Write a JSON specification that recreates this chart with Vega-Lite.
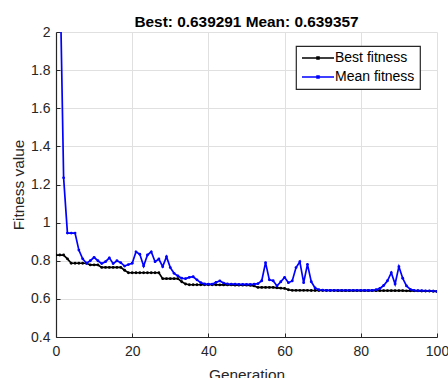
{
  "$schema": "https://vega.github.io/schema/vega-lite/v6.json",
  "autosize": {"type": "none"},
  "padding": {"left": 56, "top": 32, "right": 11, "bottom": 41},
  "width": 381,
  "height": 305,
  "background": "white",
  "title": {"text": "Best: 0.639291 Mean: 0.639357", "font": "Liberation Sans", "fontSize": 15.4, "fontWeight": "bold", "color": "#000000", "baseline": "bottom", "offset": 2, "dy": 22},
  "data": {"values": [
    {"gen": 0, "Best fitness": 0.83, "Mean fitness": 3.0},
    {"gen": 1, "Best fitness": 0.83, "Mean fitness": 2.36},
    {"gen": 2, "Best fitness": 0.83, "Mean fitness": 1.235},
    {"gen": 3, "Best fitness": 0.81, "Mean fitness": 0.945},
    {"gen": 4, "Best fitness": 0.787, "Mean fitness": 0.945},
    {"gen": 5, "Best fitness": 0.787, "Mean fitness": 0.945},
    {"gen": 6, "Best fitness": 0.787, "Mean fitness": 0.856},
    {"gen": 7, "Best fitness": 0.787, "Mean fitness": 0.81},
    {"gen": 8, "Best fitness": 0.787, "Mean fitness": 0.787},
    {"gen": 9, "Best fitness": 0.778, "Mean fitness": 0.8},
    {"gen": 10, "Best fitness": 0.778, "Mean fitness": 0.818},
    {"gen": 11, "Best fitness": 0.778, "Mean fitness": 0.8},
    {"gen": 12, "Best fitness": 0.765, "Mean fitness": 0.785},
    {"gen": 13, "Best fitness": 0.765, "Mean fitness": 0.795},
    {"gen": 14, "Best fitness": 0.765, "Mean fitness": 0.815},
    {"gen": 15, "Best fitness": 0.765, "Mean fitness": 0.785},
    {"gen": 16, "Best fitness": 0.765, "Mean fitness": 0.8},
    {"gen": 17, "Best fitness": 0.765, "Mean fitness": 0.79},
    {"gen": 18, "Best fitness": 0.75, "Mean fitness": 0.772},
    {"gen": 19, "Best fitness": 0.737, "Mean fitness": 0.78},
    {"gen": 20, "Best fitness": 0.737, "Mean fitness": 0.787},
    {"gen": 21, "Best fitness": 0.737, "Mean fitness": 0.847},
    {"gen": 22, "Best fitness": 0.737, "Mean fitness": 0.834},
    {"gen": 23, "Best fitness": 0.737, "Mean fitness": 0.772},
    {"gen": 24, "Best fitness": 0.737, "Mean fitness": 0.83},
    {"gen": 25, "Best fitness": 0.737, "Mean fitness": 0.847},
    {"gen": 26, "Best fitness": 0.737, "Mean fitness": 0.795},
    {"gen": 27, "Best fitness": 0.737, "Mean fitness": 0.809},
    {"gen": 28, "Best fitness": 0.706, "Mean fitness": 0.769},
    {"gen": 29, "Best fitness": 0.706, "Mean fitness": 0.821},
    {"gen": 30, "Best fitness": 0.706, "Mean fitness": 0.764},
    {"gen": 31, "Best fitness": 0.706, "Mean fitness": 0.734},
    {"gen": 32, "Best fitness": 0.706, "Mean fitness": 0.72},
    {"gen": 33, "Best fitness": 0.69, "Mean fitness": 0.708},
    {"gen": 34, "Best fitness": 0.678, "Mean fitness": 0.706},
    {"gen": 35, "Best fitness": 0.674, "Mean fitness": 0.713},
    {"gen": 36, "Best fitness": 0.674, "Mean fitness": 0.716},
    {"gen": 37, "Best fitness": 0.674, "Mean fitness": 0.7},
    {"gen": 38, "Best fitness": 0.674, "Mean fitness": 0.685},
    {"gen": 39, "Best fitness": 0.674, "Mean fitness": 0.678},
    {"gen": 40, "Best fitness": 0.674, "Mean fitness": 0.677},
    {"gen": 41, "Best fitness": 0.674, "Mean fitness": 0.677},
    {"gen": 42, "Best fitness": 0.674, "Mean fitness": 0.687},
    {"gen": 43, "Best fitness": 0.673, "Mean fitness": 0.694},
    {"gen": 44, "Best fitness": 0.673, "Mean fitness": 0.683},
    {"gen": 45, "Best fitness": 0.673, "Mean fitness": 0.678},
    {"gen": 46, "Best fitness": 0.673, "Mean fitness": 0.677},
    {"gen": 47, "Best fitness": 0.672, "Mean fitness": 0.677},
    {"gen": 48, "Best fitness": 0.672, "Mean fitness": 0.676},
    {"gen": 49, "Best fitness": 0.672, "Mean fitness": 0.676},
    {"gen": 50, "Best fitness": 0.672, "Mean fitness": 0.676},
    {"gen": 51, "Best fitness": 0.671, "Mean fitness": 0.676},
    {"gen": 52, "Best fitness": 0.668, "Mean fitness": 0.677},
    {"gen": 53, "Best fitness": 0.66, "Mean fitness": 0.68},
    {"gen": 54, "Best fitness": 0.66, "Mean fitness": 0.695},
    {"gen": 55, "Best fitness": 0.66, "Mean fitness": 0.79},
    {"gen": 56, "Best fitness": 0.66, "Mean fitness": 0.7},
    {"gen": 57, "Best fitness": 0.66, "Mean fitness": 0.695},
    {"gen": 58, "Best fitness": 0.658, "Mean fitness": 0.668},
    {"gen": 59, "Best fitness": 0.656, "Mean fitness": 0.69},
    {"gen": 60, "Best fitness": 0.655, "Mean fitness": 0.713},
    {"gen": 61, "Best fitness": 0.648, "Mean fitness": 0.685},
    {"gen": 62, "Best fitness": 0.645, "Mean fitness": 0.694},
    {"gen": 63, "Best fitness": 0.645, "Mean fitness": 0.764},
    {"gen": 64, "Best fitness": 0.645, "Mean fitness": 0.795},
    {"gen": 65, "Best fitness": 0.645, "Mean fitness": 0.685},
    {"gen": 66, "Best fitness": 0.645, "Mean fitness": 0.781},
    {"gen": 67, "Best fitness": 0.644, "Mean fitness": 0.69},
    {"gen": 68, "Best fitness": 0.644, "Mean fitness": 0.657},
    {"gen": 69, "Best fitness": 0.644, "Mean fitness": 0.648},
    {"gen": 70, "Best fitness": 0.644, "Mean fitness": 0.646},
    {"gen": 71, "Best fitness": 0.644, "Mean fitness": 0.645},
    {"gen": 72, "Best fitness": 0.644, "Mean fitness": 0.645},
    {"gen": 73, "Best fitness": 0.644, "Mean fitness": 0.645},
    {"gen": 74, "Best fitness": 0.643, "Mean fitness": 0.645},
    {"gen": 75, "Best fitness": 0.643, "Mean fitness": 0.645},
    {"gen": 76, "Best fitness": 0.643, "Mean fitness": 0.645},
    {"gen": 77, "Best fitness": 0.643, "Mean fitness": 0.645},
    {"gen": 78, "Best fitness": 0.643, "Mean fitness": 0.645},
    {"gen": 79, "Best fitness": 0.643, "Mean fitness": 0.645},
    {"gen": 80, "Best fitness": 0.643, "Mean fitness": 0.645},
    {"gen": 81, "Best fitness": 0.643, "Mean fitness": 0.645},
    {"gen": 82, "Best fitness": 0.643, "Mean fitness": 0.645},
    {"gen": 83, "Best fitness": 0.643, "Mean fitness": 0.645},
    {"gen": 84, "Best fitness": 0.643, "Mean fitness": 0.648},
    {"gen": 85, "Best fitness": 0.643, "Mean fitness": 0.655},
    {"gen": 86, "Best fitness": 0.643, "Mean fitness": 0.67},
    {"gen": 87, "Best fitness": 0.643, "Mean fitness": 0.695},
    {"gen": 88, "Best fitness": 0.643, "Mean fitness": 0.737},
    {"gen": 89, "Best fitness": 0.643, "Mean fitness": 0.678},
    {"gen": 90, "Best fitness": 0.643, "Mean fitness": 0.769},
    {"gen": 91, "Best fitness": 0.643, "Mean fitness": 0.708},
    {"gen": 92, "Best fitness": 0.642, "Mean fitness": 0.668},
    {"gen": 93, "Best fitness": 0.642, "Mean fitness": 0.65},
    {"gen": 94, "Best fitness": 0.642, "Mean fitness": 0.645},
    {"gen": 95, "Best fitness": 0.642, "Mean fitness": 0.643},
    {"gen": 96, "Best fitness": 0.641, "Mean fitness": 0.643},
    {"gen": 97, "Best fitness": 0.641, "Mean fitness": 0.642},
    {"gen": 98, "Best fitness": 0.641, "Mean fitness": 0.642},
    {"gen": 99, "Best fitness": 0.64, "Mean fitness": 0.641},
    {"gen": 100, "Best fitness": 0.639291, "Mean fitness": 0.639357}
  ]},
  "transform": [{"fold": ["Best fitness", "Mean fitness"], "as": ["series", "value"]}],
  "mark": {"type": "line", "clip": true, "strokeWidth": 1.7, "point": {"filled": true, "size": 8, "clip": true}},
  "encoding": {
    "x": {"field": "gen", "type": "quantitative", "title": "Generation",
      "scale": {"domain": [0, 100], "nice": false},
      "axis": {"values": [0, 20, 40, 60, 80, 100], "labelPadding": 11, "titlePadding": 9, "labelFlush": false}},
    "y": {"field": "value", "type": "quantitative", "title": "Fitness value",
      "scale": {"domain": [0.4, 2], "nice": false, "zero": false},
      "axis": {"values": [0.4, 0.6, 0.8, 1, 1.2, 1.4, 1.6, 1.8, 2], "format": "~g", "labelPadding": 10, "titlePadding": 4, "labelFlush": false}},
    "color": {"field": "series", "type": "nominal",
      "scale": {"domain": ["Best fitness", "Mean fitness"], "range": ["#000000", "#0000ff"]},
      "legend": {"title": null, "orient": "none", "legendX": 240, "legendY": 14,
        "symbolType": "M-3.2,0L3.2,0M-0.2,-0.2L0.2,-0.2L0.2,0.2L-0.2,0.2Z", "symbolSize": 100, "symbolStrokeWidth": 1.5,
        "symbolOffset": 10, "labelOffset": 10, "rowPadding": 5, "padding": 5,
        "strokeColor": "#262626", "fillColor": "#ffffff",
        "labelFont": "Liberation Sans", "labelFontSize": 14, "labelColor": "#000000"}}
  },
  "config": {
    "view": {"stroke": null},
    "axis": {
      "domainColor": "#262626", "domainWidth": 1.2, "tickColor": "#262626", "tickSize": -4, "tickWidth": 1,
      "gridColor": "#e0e0e0", "gridWidth": 1,
      "labelFont": "Liberation Sans", "labelFontSize": 14, "labelColor": "#262626",
      "titleFont": "Liberation Sans", "titleFontSize": 15.4, "titleFontWeight": "normal", "titleColor": "#262626"
    },
    "legend": {"strokeWidth": 1.2}
  }
}
